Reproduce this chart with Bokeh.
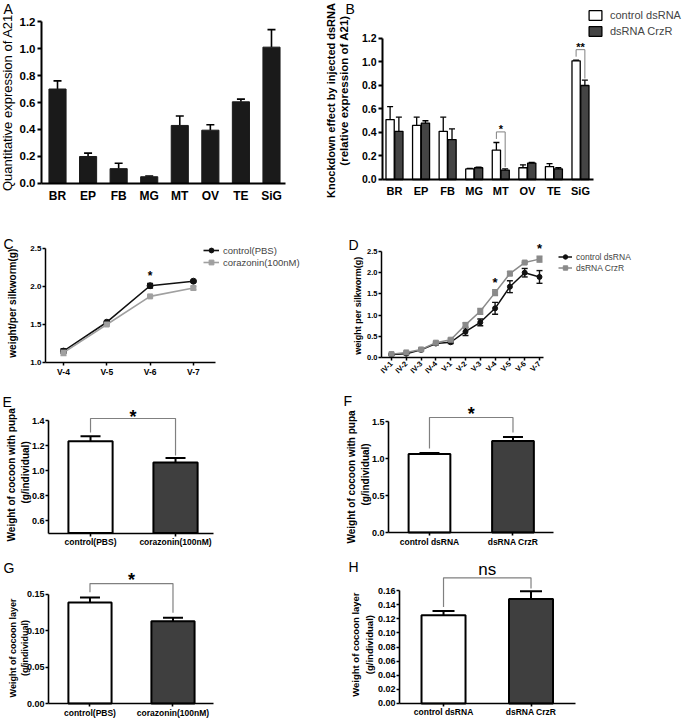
import math
from bokeh.plotting import figure
from bokeh.models import (Range1d, FixedTicker, PrintfTickFormatter, Whisker, TeeHead,
                          ColumnDataSource, Legend, LegendItem)
from bokeh.layouts import row, column
from bokeh.core.properties import value
from bokeh.embed import file_html
from bokeh.resources import INLINE

FONT = "Liberation Sans"

# ---------------- data ----------------
tissues = ["BR", "EP", "FB", "MG", "MT", "OV", "TE", "SiG"]
a21_mean = [0.70, 0.20, 0.11, 0.05, 0.43, 0.395, 0.605, 1.01]
a21_upper = [0.76, 0.225, 0.15, 0.055, 0.50, 0.435, 0.625, 1.14]

kd_control = [0.51, 0.46, 0.41, 0.09, 0.25, 0.10, 0.11, 1.01]
kd_control_upper = [0.62, 0.53, 0.53, 0.095, 0.315, 0.125, 0.135, 1.015]
kd_crzr = [0.41, 0.48, 0.34, 0.10, 0.08, 0.14, 0.09, 0.80]
kd_crzr_upper = [0.53, 0.50, 0.43, 0.105, 0.09, 0.145, 0.10, 0.845]
kd_sig_idx = [4, 7]
kd_sig_text = ["*", "**"]

stages_c = ["V-4", "V-5", "V-6", "V-7"]
pbs_weight = [1.15, 1.53, 2.01, 2.07]
pbs_err = [0.03, 0.01, 0.03, 0.01]
cor_weight = [1.13, 1.50, 1.87, 1.98]
cor_err = [0.04, 0.01, 0.01, 0.025]
c_sig_idx = [2]

stages_d = ["IV-1", "IV-2", "IV-3", "IV-4", "V-1", "V-2", "V-3", "V-4", "V-5", "V-6", "V-7"]
ctrl_dsrna = [0.07, 0.09, 0.18, 0.33, 0.36, 0.61, 0.83, 1.16, 1.67, 2.00, 1.90]
ctrl_dsrna_err = [0.02, 0.02, 0.02, 0.03, 0.03, 0.09, 0.08, 0.14, 0.14, 0.10, 0.15]
crzr_dsrna = [0.08, 0.12, 0.19, 0.35, 0.42, 0.77, 1.09, 1.53, 1.98, 2.24, 2.32]
crzr_dsrna_err = [0.02, 0.02, 0.02, 0.02, 0.03, 0.05, 0.07, 0.07, 0.05, 0.01, 0.07]
d_sig_idx = [7, 10]

groups_pbs = ["control(PBS)", "corazonin(100nM)"]
groups_ds = ["control dsRNA", "dsRNA CrzR"]
pupa_pbs = [1.235, 1.065]
pupa_pbs_upper = [1.275, 1.10]
pupa_ds = [1.06, 1.235]
pupa_ds_upper = [1.075, 1.29]
layer_pbs = [0.139, 0.113]
layer_pbs_upper = [0.146, 0.118]
layer_ds = [0.125, 0.148]
layer_ds_upper = [0.131, 0.159]

DARK = "#3f3f3f"
GRAY_BR = "#808080"


# ---------------- helpers ----------------
def panel(w, h, xr, yr):
    p = figure(width=w, height=h, x_range=Range1d(*xr), y_range=Range1d(*yr),
               output_backend="svg", toolbar_location=None, tools="",
               min_border_left=0, min_border_right=0, min_border_top=0, min_border_bottom=0)
    p.xgrid.visible = False
    p.ygrid.visible = False
    p.outline_line_color = None
    for ax in list(p.xaxis) + list(p.yaxis):
        ax.axis_line_color = "black"
        ax.major_tick_line_color = "black"
        ax.minor_tick_line_color = None
        ax.major_tick_in = 0
        ax.major_label_text_font = FONT
        ax.major_label_text_font_style = "bold"
        ax.major_label_text_color = "black"
    return p


def axes(p, yaxis_at, xaxis_at, xticks, xlabels, xfs, yticks, yfmt, yfs, lw, xout, yout,
         xbounds, ybounds, xstand=2, ystand=2):
    xa, ya = p.xaxis[0], p.yaxis[0]
    xa.fixed_location = xaxis_at
    ya.fixed_location = yaxis_at
    xa.ticker = FixedTicker(ticks=xticks)
    xa.major_label_overrides = {t: s for t, s in zip(xticks, xlabels)}
    xa.major_label_text_font_size = xfs
    xa.major_tick_out = xout
    xa.major_label_standoff = xstand
    ya.ticker = FixedTicker(ticks=yticks)
    ya.formatter = PrintfTickFormatter(format=yfmt)
    ya.major_label_text_font_size = yfs
    ya.major_tick_out = yout
    ya.major_label_standoff = ystand
    for ax in (xa, ya):
        ax.axis_line_width = lw
        ax.major_tick_line_width = lw
    xa.bounds = xbounds
    ya.bounds = ybounds


def whisker(p, xs, lower, upper, size, lw, color="black", both=False):
    src = ColumnDataSource(dict(x=xs, lower=lower, upper=upper))
    w = Whisker(source=src, base="x", lower="lower", upper="upper", dimension="height",
                line_color=color, line_width=lw,
                upper_head=TeeHead(size=size, line_color=color, line_width=lw),
                lower_head=TeeHead(size=size, line_color=color, line_width=lw) if both else None)
    p.add_layout(w)


def bracket(p, x0, x1, y0, y1, top, lw=1.2):
    p.line([x0, x0, x1, x1], [y0, top, top, y1], line_color=GRAY_BR, line_width=lw)


def txt(p, x, y, s, size, style="bold", angle=0.0, align="center"):
    p.text(x=[x], y=[y], text=[s], angle=angle, text_font=value(FONT), text_font_size=value(size),
           text_font_style=style, text_align=align, text_baseline="middle", text_color="black")


def legend(p, items, location, gw, gh, fs, spacing=0, standoff=4):
    lg = Legend(items=[LegendItem(label=l, renderers=r) for l, r in items],
                location=location, margin=0, padding=0, spacing=spacing,
                glyph_width=gw, glyph_height=gh, label_height=gh, label_standoff=standoff,
                border_line_color=None, background_fill_alpha=0,
                label_text_font=FONT, label_text_font_size=fs)
    p.add_layout(lg)


# ---------------- panel A ----------------
pA = panel(318, 205, (-1.865, 8.538), (-0.163, 1.3556))
xA = list(range(len(tissues)))
pA.vbar(x=xA, top=a21_mean, bottom=0, width=0.56, fill_color="#1a1a1a", line_color="#1a1a1a")
whisker(pA, xA, a21_mean, a21_upper, 8, 1.6)
axes(pA, -0.523, 0, xA, tissues, "12px", [0, 0.2, 0.4, 0.6, 0.8, 1.0, 1.2], "%.1f", "11.5px",
     2, 0, 4, (-0.523, 7.458), (0, 1.2), xstand=6, ystand=2)
txt(pA, -1.636, 0.60, "Quantitative expression of A21", "13px", "normal", math.pi / 2)
txt(pA, -1.766, 1.29, "A", "14px", "normal", align="left")

# ---------------- panel B ----------------
pB = panel(365, 205, (-2.860, 10.877), (-0.2213, 1.5234))
xB = list(range(len(tissues)))
xBc = [x - 0.165 for x in xB]
xBd = [x + 0.165 for x in xB]
rB1 = pB.vbar(x=xBc, top=kd_control, bottom=0, width=0.31, fill_color="white",
              line_color="black", line_width=1.3)
rB2 = pB.vbar(x=xBd, top=kd_crzr, bottom=0, width=0.31, fill_color="#444444",
              line_color="black", line_width=1.3)
whisker(pB, xBc, kd_control, kd_control_upper, 6, 1.3)
whisker(pB, xBd, kd_crzr, kd_crzr_upper, 6, 1.3)
for i, s in zip(kd_sig_idx, kd_sig_text):
    top = max(kd_control_upper[i], kd_crzr_upper[i]) + 0.09
    bracket(pB, xBc[i], xBd[i], kd_control_upper[i] + 0.03, kd_crzr_upper[i] + 0.015, top, 1.0)
    txt(pB, xB[i], top + 0.025, s, "11px")
axes(pB, -0.4516, 0, xB, tissues, "11px", [0, 0.2, 0.4, 0.6, 0.8, 1.0, 1.2], "%.1f", "10.5px",
     2, 0, 4, (-0.4516, 7.489), (0, 1.2), xstand=6, ystand=2)
txt(pB, -2.371, 0.672, "Knockdown effect by injected dsRNA", "11px", "bold", math.pi / 2)
txt(pB, -1.882, 0.757, "(relative expression of A21)", "11.5px", "bold", math.pi / 2)
legend(pB, [("control dsRNA", [rB1]), ("dsRNA CrzR", [rB2])], (269, 168), 16, 12, "11px",
       spacing=4, standoff=7)
txt(pB, -1.844, 1.45, "B", "14px", "normal", align="left")

# ---------------- panel C ----------------
pC = panel(318, 175, (-1.455, 5.889), (0.763, 3.066))
xC = list(range(len(stages_c)))
rC1l = pC.line(xC, pbs_weight, line_color="#111111", line_width=1.6)
rC1m = pC.scatter(xC, pbs_weight, marker="circle", size=6, fill_color="#111111", line_color="#111111")
rC2l = pC.line(xC, cor_weight, line_color="#a0a0a0", line_width=1.6)
rC2m = pC.scatter(xC, cor_weight, marker="square", size=5, fill_color="#a0a0a0", line_color="#a0a0a0")
whisker(pC, xC, [m - e for m, e in zip(pbs_weight, pbs_err)],
        [m + e for m, e in zip(pbs_weight, pbs_err)], 6, 1.4, "#111111", True)
whisker(pC, xC, [m - e for m, e in zip(cor_weight, cor_err)],
        [m + e for m, e in zip(cor_weight, cor_err)], 6, 1.4, "#a0a0a0", True)
for i in c_sig_idx:
    txt(pC, xC[i], max(pbs_weight[i] + pbs_err[i], cor_weight[i] + cor_err[i]) + 0.10, "*", "12px")
axes(pC, -0.416, 1.0, xC, stages_c, "8.5px", [1.0, 1.5, 2.0, 2.5], "%.1f", "8px",
     1.5, 3, 3, (-0.416, 3.508), (1.0, 2.5), xstand=2, ystand=1)
txt(pC, -1.178, 1.78, "weight/per silkworm(g)", "10px", "bold", math.pi / 2)
legend(pC, [("control(PBS)", [rC1l, rC1m]), ("corazonin(100nM)", [rC2l, rC2m])],
       (203, 112), 16, 12, "9.5px")
txt(pC, -1.386, 2.56, "C", "14px", "normal", align="left")

# ---------------- panel D ----------------
pD = panel(365, 175, (-4.932, 19.73), (-0.542, 3.585))
xD = list(range(len(stages_d)))
rD1l = pD.line(xD, ctrl_dsrna, line_color="#111111", line_width=1.5)
rD1m = pD.scatter(xD, ctrl_dsrna, marker="circle", size=5, fill_color="#111111", line_color="#111111")
rD2l = pD.line(xD, crzr_dsrna, line_color="#8a8a8a", line_width=1.5)
rD2m = pD.scatter(xD, crzr_dsrna, marker="square", size=5, fill_color="#8a8a8a", line_color="#8a8a8a")
whisker(pD, xD, [m - e for m, e in zip(ctrl_dsrna, ctrl_dsrna_err)],
        [m + e for m, e in zip(ctrl_dsrna, ctrl_dsrna_err)], 6, 1.4, "#111111", True)
whisker(pD, xD, [m - e for m, e in zip(crzr_dsrna, crzr_dsrna_err)],
        [m + e for m, e in zip(crzr_dsrna, crzr_dsrna_err)], 6, 1.4, "#8a8a8a", True)
for i in d_sig_idx:
    txt(pD, xD[i], max(ctrl_dsrna[i] + ctrl_dsrna_err[i], crzr_dsrna[i] + crzr_dsrna_err[i]) + 0.17,
        "*", "13px")
axes(pD, -0.676, 0, xD, stages_d, "7.5px", [0, 0.5, 1.0, 1.5, 2.0, 2.5], "%.1f", "7.5px",
     1.5, 3, 3, (-0.676, 10.27), (0, 2.5), xstand=2, ystand=1)
pD.xaxis[0].major_label_orientation = math.pi / 4
txt(pD, -2.264, 1.22, "weight per silkworm(g)", "9px", "bold", math.pi / 2)
legend(pD, [("control dsRNA", [rD1l, rD1m]), ("dsRNA CrzR", [rD2l, rD2m])],
       (240, 107), 14, 11, "8.5px")
txt(pD, -2.905, 2.66, "D", "14px", "normal", align="left")


# ---------------- panels E-H ----------------
def bar_pair(w, h, xr, yr, base, labels, means, uppers, yticks, yfmt, yaxis_at,
             bar_w, cap, gap0, gap1, rise, star_off, sig, sig_size, sig_style, xb_hi, yb_hi):
    p = panel(w, h, xr, yr)
    xs = list(range(len(labels)))
    p.vbar(x=xs, top=means, bottom=base, width=bar_w, fill_color=["white", DARK],
           line_color="black", line_width=2)
    whisker(p, xs, means, uppers, cap, 2)
    top = max(uppers) + rise
    bracket(p, xs[0], xs[1], uppers[0] + gap0, uppers[1] + gap1, top, 1.2)
    txt(p, (xs[0] + xs[1]) / 2, top + star_off, sig, sig_size, sig_style)
    axes(p, yaxis_at, base, xs, labels, "8.5px", yticks, yfmt, "9px", 1.6, 3, 3,
         (yaxis_at, xb_hi), (base, yb_hi), xstand=1, ystand=1)
    return p


pE = bar_pair(318, 170, (-1.059, 2.682), (0.36, 1.72), 0.5, groups_pbs, pupa_pbs, pupa_pbs_upper,
              [0.6, 0.8, 1.0, 1.2, 1.4], "%.1f", -0.494,
              0.52, 20, 0.03, 0.02, 0.141, 0.016, "*", "18px", "bold", 1.447, 1.4)
txt(pE, -0.924, 0.965, "Weight of cocoon with pupa", "10px", "bold", math.pi / 2)
txt(pE, -0.765, 0.985, "(g/individual)", "10px", "bold", math.pi / 2)
txt(pE, -1.035, 1.55, "E", "14px", "normal", align="left")

pF = bar_pair(365, 170, (-1.329, 3.042), (-0.243, 2.054), 0, groups_ds, pupa_ds, pupa_ds_upper,
              [0.0, 0.5, 1.0, 1.5], "%.1f", -0.491,
              0.5, 20, 0.06, 0.06, 0.264, 0.041, "*", "18px", "bold", 1.485, 1.5)
txt(pF, -0.928, 0.75, "Weight of cocoon with pupa", "10px", "bold", math.pi / 2)
txt(pF, -0.766, 0.785, "(g/individual)", "10px", "bold", math.pi / 2)
txt(pF, -1.03, 1.78, "F", "14px", "normal", align="left")

pG = bar_pair(318, 169, (-1.078, 2.753), (-0.022, 0.2105), 0, groups_pbs, layer_pbs, layer_pbs_upper,
              [0.0, 0.05, 0.10, 0.15], "%.2f", -0.5,
              0.52, 20, 0.007, 0.007, 0.019, 0.005, "*", "18px", "bold", 1.49, 0.15)
txt(pG, -0.928, 0.0764, "Weight of cocoon layer", "9px", "bold", math.pi / 2)
txt(pG, -0.777, 0.0764, "(g/individual)", "9px", "bold", math.pi / 2)
txt(pG, -1.042, 0.187, "G", "14px", "normal", align="left")

pH = bar_pair(365, 169, (-1.429, 2.743), (-0.0227, 0.2167), 0, groups_ds, layer_ds, layer_ds_upper,
              [0.0, 0.02, 0.04, 0.06, 0.08, 0.10, 0.12, 0.14, 0.16], "%.2f", -0.503,
              0.503, 22, 0.0056, 0.004, 0.019, 0.012, "ns", "17px", "normal", 1.509, 0.16)
txt(pH, -1.006, 0.0834, "Weight of cocoon layer", "9.5px", "bold", math.pi / 2)
txt(pH, -0.846, 0.0834, "(g/individual)", "9.5px", "bold", math.pi / 2)
txt(pH, -1.086, 0.193, "H", "14px", "normal", align="left")

layout = column(row(pA, pB), row(pC, pD), row(pE, pF), row(pG, pH))
open("out.html", "w").write(file_html(layout, INLINE))
